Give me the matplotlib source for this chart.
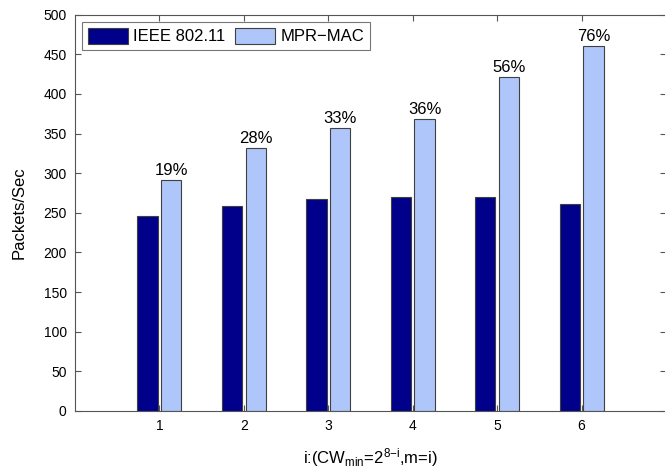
import matplotlib
matplotlib.use("Agg")
import matplotlib.pyplot as plt
import numpy as np
from matplotlib.patches import Patch

categories = [1, 2, 3, 4, 5, 6]
ieee = [246, 259, 267, 270, 270, 261]
mpr = [292, 332, 357, 369, 421, 461]
gains = ["19%", "28%", "33%", "36%", "56%", "76%"]
yticks = [0, 50, 100, 150, 200, 250, 300, 350, 400, 450, 500]

plt.rcParams['font.family'] = ['Liberation Sans', 'DejaVu Sans']
plt.rcParams['mathtext.default'] = 'regular'

fig = plt.figure(figsize=(6.65, 4.71), dpi=100)
ax = fig.add_axes([75/665, 1-411/471, 591/665, (411-14.7)/471])

c_ieee = '#00008a'
c_mpr = '#afc6fa'
edge = '#404040'
x = np.array(categories, dtype=float)
w = 0.24
off = 0.14
ax.bar(x - off, ieee, width=w, color=c_ieee, edgecolor=edge, linewidth=0.8)
ax.bar(x + off, mpr, width=w, color=c_mpr, edgecolor=edge, linewidth=0.8)

for xi, v, g in zip(x, mpr, gains):
    ax.text(xi + off, v + 2.5, g, ha='center', va='bottom', fontsize=12)

ax.set_xlim(0, 7)
ax.set_ylim(0, 500)
ax.set_xticks(categories)
ax.set_yticks(yticks)
ax.tick_params(direction='in', length=4.3, width=0.8, color='#555555',
               labelsize=10, top=True, right=True, pad=6)
for s in ax.spines.values():
    s.set_color('#555555')
    s.set_linewidth(0.8)

ax.set_ylabel('Packets/Sec', fontsize=12, labelpad=12)
ax.set_xlabel(r'i:(CW$_{min}$=2$^{8{-}i}$,m=i)', fontsize=12, labelpad=9)

handles = [Patch(facecolor=c_ieee, edgecolor=edge, linewidth=0.8),
           Patch(facecolor=c_mpr, edgecolor=edge, linewidth=0.8)]
leg = ax.legend(handles, ['IEEE 802.11', 'MPR\u2212MAC'], loc='upper left',
                bbox_to_anchor=(0.012, 0.982), borderaxespad=0, ncol=2,
                fontsize=12, fancybox=False, handlelength=2.4, handleheight=1.1,
                handletextpad=0.3, columnspacing=0.6, borderpad=0.35)
leg.get_frame().set_edgecolor('#555555')
leg.get_frame().set_linewidth(0.8)

fig.savefig('out.png', dpi=100)
